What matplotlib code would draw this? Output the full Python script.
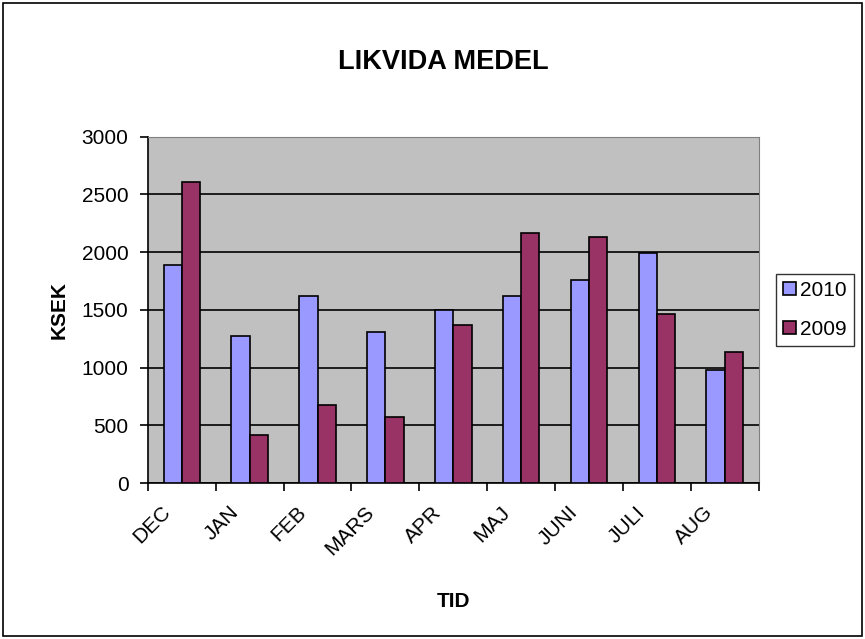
import numpy as np
import matplotlib.pyplot as plt
from matplotlib.patches import Rectangle

plt.rcParams['font.family'] = ['Liberation Sans', 'DejaVu Sans']

# Data (KSEK)
months = ['DEC', 'JAN', 'FEB', 'MARS', 'APR', 'MAJ', 'JUNI', 'JULI', 'AUG']
v2010 = [1885, 1275, 1620, 1310, 1495, 1620, 1760, 1990, 980]
v2009 = [2605, 420, 680, 575, 1370, 2165, 2135, 1465, 1135]

fig = plt.figure(figsize=(8.65, 6.39), dpi=100)
ax = fig.add_axes([0.171, 0.244, 0.706, 0.542])
ax.set_facecolor('#C0C0C0')

x = np.arange(len(months))
w = 0.27
ax.bar(x - w / 2, v2010, w, color='#9999FF', edgecolor='black', linewidth=1.2, label='2010', zorder=3)
ax.bar(x + w / 2, v2009, w, color='#993366', edgecolor='black', linewidth=1.2, label='2009', zorder=3)

ax.set_xlim(-0.5, len(months) - 0.5)
ax.set_ylim(0, 3000)
ax.set_yticks(np.arange(0, 3001, 500))
ax.yaxis.grid(True, color='black', linewidth=1.2, zorder=1)
ax.set_axisbelow(True)

# ticks between categories, rotated labels anchored a bit left of centre
ax.set_xticks(np.arange(-0.5, len(months), 1.0))
ax.set_xticklabels([])
ax.set_xticks(x - 0.31, minor=True)
ax.set_xticklabels(months, minor=True, rotation=45, ha='right', va='top',
                   rotation_mode='anchor', fontsize=15)
ax.tick_params(axis='x', which='minor', length=0, pad=14)
ax.tick_params(axis='x', which='major', length=6, width=1.2, direction='out')
ax.tick_params(axis='y', length=6, width=1.2, labelsize=15, pad=8)

for s in ['top', 'right']:
    ax.spines[s].set_color('#808080')
for s in ['left', 'bottom']:
    ax.spines[s].set_color('black')
    ax.spines[s].set_linewidth(1.2)

ax.set_ylabel('KSEK', fontsize=15, fontweight='bold', labelpad=9)
ax.set_xlabel('TID', fontsize=15, fontweight='bold', labelpad=24)
fig.text(443 / 865, 1 - 62 / 639, 'LIKVIDA MEDEL', fontsize=19.5, fontweight='bold',
         ha='center', va='center')

leg = fig.legend(loc='center left', bbox_to_anchor=(776 / 865, 1 - 310 / 639),
                 fontsize=15, frameon=True, fancybox=False, edgecolor='black',
                 handlelength=0.6, handleheight=0.6, handletextpad=0.2,
                 borderpad=0.35, labelspacing=0.95, borderaxespad=0)
leg.get_frame().set_linewidth(1.0)

fig.patches.append(Rectangle((0.003, 0.004), 0.994, 0.992, transform=fig.transFigure,
                             fill=False, edgecolor='black', linewidth=1.2))

fig.savefig('out.png', dpi=100)
